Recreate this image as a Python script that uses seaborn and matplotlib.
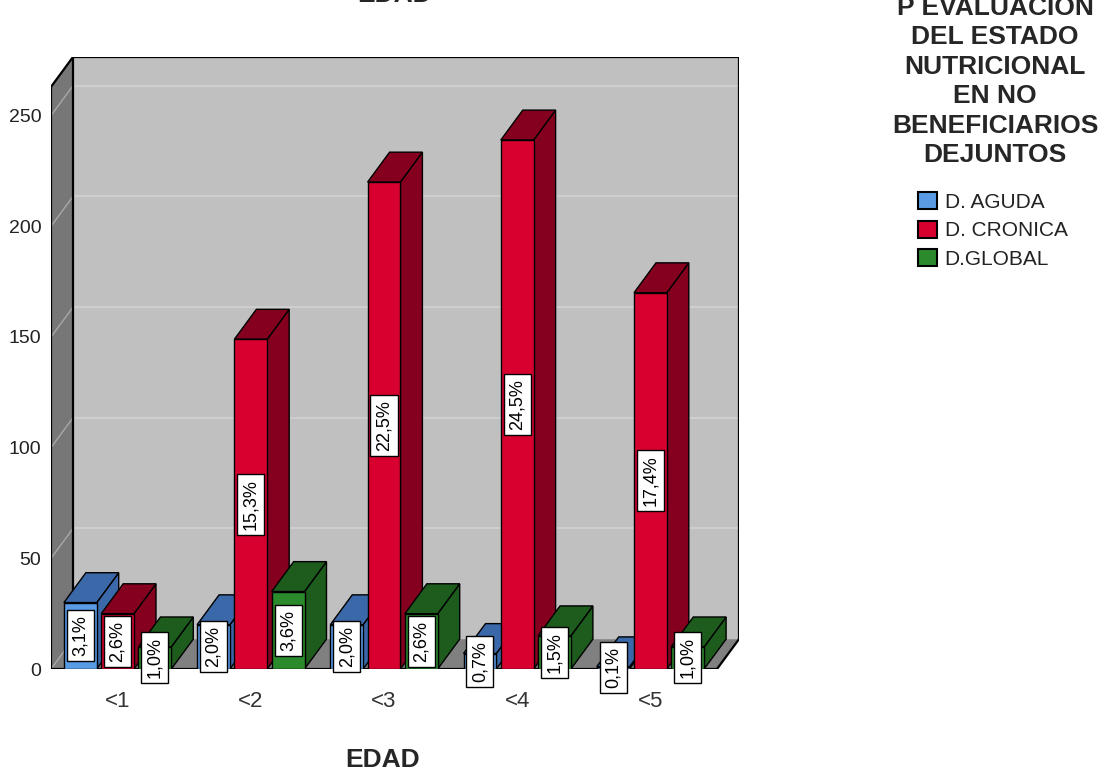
import matplotlib
matplotlib.use("Agg")
import matplotlib.pyplot as plt
from matplotlib.patches import Polygon, Patch
import seaborn as sns
import pandas as pd

# Age groups and malnutrition types
edades = ["<1", "<2", "<3", "<4", "<5"]
tipos = ["D. AGUDA", "D. CRONICA", "D.GLOBAL"]

# Case counts per age group
aguda = [30, 20, 20, 7, 1]
cronica = [25, 149, 220, 239, 170]
global_ = [10, 35, 25, 15, 10]

yticks = [0, 50, 100, 150, 200, 250]

titulo_leyenda = ["P EVALUACION", "DEL ESTADO", "NUTRICIONAL", "EN NO",
                  "BENEFICIARIOS", "DEJUNTOS"]

frente = {"D. AGUDA": "#5a9be6", "D. CRONICA": "#d8002f", "D.GLOBAL": "#2b8a2b"}
oscuro = {"D. AGUDA": "#3b68a8", "D. CRONICA": "#85001f", "D.GLOBAL": "#1d5c1d"}

df = pd.DataFrame({
    "edad": edades * 3,
    "tipo": [t for t in tipos for _ in edades],
    "n": aguda + cronica + global_,
})
total = df["n"].sum()

sns.set_style("white")
plt.rcParams["font.family"] = ["Liberation Sans", "DejaVu Sans"]

W, H = 1112, 771
fig = plt.figure(figsize=(W / 100, H / 100), dpi=100)

# Front plane spans x in [-0.5, 4.5], y in [0, YTOP]; depth shifts up-right
YTOP = 263.0
DX, DY = 0.165, 13.5
ax = fig.add_axes([51 / W, 102 / H, 688 / W, 612 / H])
ax.set_xlim(-0.5, 4.5 + DX)
ax.set_ylim(0, YTOP + DY)
ax.patch.set_visible(False)
for s in ax.spines.values():
    s.set_visible(False)

# Walls: floor, back wall, left wall
x0, x1 = -0.5, 4.5
floor = Polygon([(x0, 0), (x1, 0), (x1 + DX, DY), (x0 + DX, DY)],
                closed=True, fc="#808080", ec="none", zorder=0.5)
back = Polygon([(x0 + DX, DY), (x1 + DX, DY), (x1 + DX, YTOP + DY), (x0 + DX, YTOP + DY)],
               closed=True, fc="#c0c0c0", ec="none", zorder=0.6)
left = Polygon([(x0, 0), (x0, YTOP), (x0 + DX, YTOP + DY), (x0 + DX, DY)],
               closed=True, fc="#777777", ec="none", zorder=0.7)
for p in (floor, back, left):
    ax.add_patch(p)
for v in yticks[1:]:
    ax.plot([x0 + DX, x1 + DX], [v + DY, v + DY], color="#d2d2d2", lw=1.2, zorder=0.8)
for v in yticks:
    ax.plot([x0, x0 + DX], [v, v + DY], color="#a8a8a8", lw=1.0, zorder=0.8)

edge_kw = dict(color="black", lw=1.6, zorder=0.9, solid_capstyle="round")
ax.plot([x0, x0], [0, YTOP], **edge_kw)
ax.plot([x0 + DX, x0 + DX], [DY, YTOP + DY], **edge_kw)
ax.plot([x0, x0 + DX], [YTOP, YTOP + DY], **edge_kw)
ax.plot([x0 + DX, x1 + DX], [YTOP + DY, YTOP + DY], **edge_kw)
ax.plot([x1 + DX, x1 + DX], [DY, YTOP + DY], **edge_kw)
ax.plot([x0, x1], [0, 0], **edge_kw)
ax.plot([x1, x1 + DX], [0, DY], **edge_kw)

sns.barplot(data=df, x="edad", y="n", hue="tipo", order=edades, hue_order=tipos,
            palette=frente, saturation=1, width=0.84, gap=0.12, errorbar=None,
            edgecolor="black", linewidth=1.0, legend=False, ax=ax)
ax.set_xlim(-0.5, 4.5 + DX)
ax.set_ylim(0, YTOP + DY)

# Extrude each bar: side and top faces, ordered left to right
bars = [p for p in ax.patches if hasattr(p, "get_width") and p.get_height() > 0
        and p.get_width() < 1]
bars_sorted = sorted(bars, key=lambda p: p.get_x())
for k, p in enumerate(bars_sorted):
    bx, bw, bh = p.get_x(), p.get_width(), p.get_height()
    col = matplotlib.colors.to_hex(p.get_facecolor())
    t = [name for name, c in frente.items() if c.lower() == col.lower()][0]
    z = 2 + 0.01 * k
    side = Polygon([(bx + bw, 0), (bx + bw + DX, DY), (bx + bw + DX, bh + DY), (bx + bw, bh)],
                   closed=True, fc=oscuro[t], ec="black", lw=1.0, zorder=z)
    top = Polygon([(bx, bh), (bx + bw, bh), (bx + bw + DX, bh + DY), (bx + DX, bh + DY)],
                  closed=True, fc=oscuro[t], ec="black", lw=1.0, zorder=z)
    ax.add_patch(side)
    ax.add_patch(top)
    p.set_zorder(z + 0.005)
    pct = 100 * bh / total
    ax.text(bx + bw / 2, bh / 2, f"{pct:.1f}%".replace(".", ","), rotation=90,
            ha="center", va="center", fontsize=13, color="black", zorder=10,
            bbox=dict(boxstyle="square,pad=0.28", fc="white", ec="black", lw=1.0))

ax.set_yticks(yticks)
ax.set_yticklabels([str(v) for v in yticks])
ax.set_xticks(range(len(edades)))
ax.set_xticklabels(edades)
ax.tick_params(axis="y", length=0, pad=7, labelsize=14, labelcolor="#222222")
ax.tick_params(axis="x", length=0, pad=16, labelsize=16, labelcolor="#333333")
ax.set_xlabel("")
ax.set_ylabel("")

fig.text(383 / W, 1 - 767 / H, "EDAD", ha="center", va="baseline",
         fontsize=19, fontweight="bold")
fig.text(395 / W, 1 - 2 / H, "EDAD", ha="center", va="baseline",
         fontsize=19, fontweight="bold")

# Legend title, one line at a time
for i, line in enumerate(titulo_leyenda):
    fig.text(995 / W, 1 - (15 + 29.4 * i) / H, line, ha="center", va="baseline",
             fontsize=19, fontweight="bold")

handles = [Patch(fc=frente[t], ec="black", lw=1.5) for t in tipos]
fig.legend(handles, tipos, loc="upper left", bbox_to_anchor=(918 / W, 1 - 192 / H),
           frameon=False, fontsize=15, handlelength=0.9, handleheight=0.9,
           handletextpad=0.38, labelspacing=0.42, borderpad=0, borderaxespad=0,
           labelcolor="#222222")

fig.savefig("out.png", dpi=100)
